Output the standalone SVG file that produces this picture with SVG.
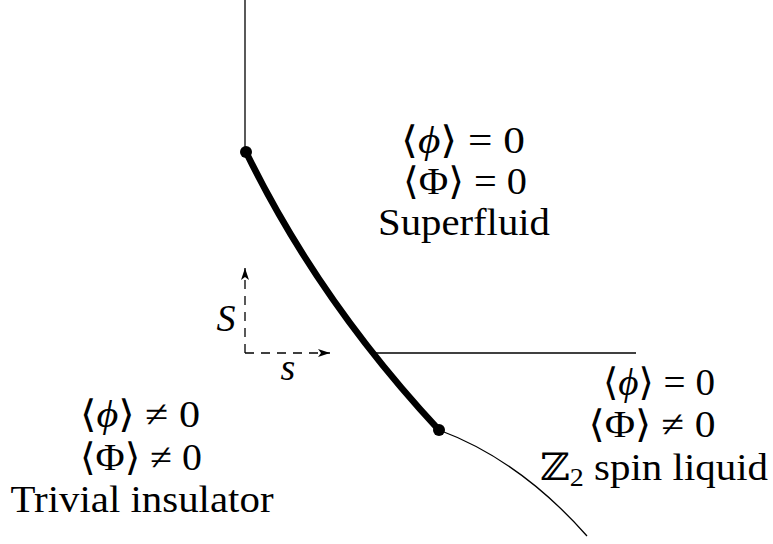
<svg xmlns="http://www.w3.org/2000/svg" width="773" height="544" viewBox="0 0 773 544">
<defs>
<style>
.t{font-family:"Liberation Serif","DejaVu Serif",serif;font-size:38px;fill:#000;text-anchor:middle}
.i{font-style:italic}
.thin{fill:none;stroke:#000;stroke-width:1.3}
.thick{fill:none;stroke:#000;stroke-width:6.5}
.dash{fill:none;stroke:#000;stroke-width:1.3;stroke-dasharray:9,7}
</style>
<marker id="ah" viewBox="0 0 12 10" refX="12" refY="5" markerWidth="12" markerHeight="10" markerUnits="userSpaceOnUse" orient="auto">
<path d="M0,1 L12,5 L0,9 L3,5 Z" fill="#000"/>
</marker>
</defs>
<rect width="773" height="544" fill="#fff"/>
<g id="connectors">
<line class="thin" x1="245" y1="0" x2="245" y2="152"/>
<path class="thick" d="M246,152 Q318,300 439,430"/>
<path class="thin" d="M439,430 Q520,460 587,536"/>
<line class="thin" x1="370" y1="353" x2="636" y2="353"/>
<line class="dash" x1="245" y1="353" x2="245" y2="268" marker-end="url(#ah)"/>
<line class="dash" x1="245" y1="353" x2="330" y2="353" marker-end="url(#ah)"/>
</g>
<g id="dot-top"><circle cx="246" cy="152" r="6" fill="#000"/></g>
<g id="dot-bottom"><circle cx="439" cy="430" r="6" fill="#000"/></g>
<g id="label-S"><text class="t i" x="226" y="331">S</text></g>
<g id="label-s"><text class="t i" x="288" y="380">s</text></g>
<g id="superfluid">
<text class="t" x="463" y="153" textLength="124" lengthAdjust="spacingAndGlyphs">⟨<tspan class="i">ϕ</tspan>⟩ = 0</text>
<text class="t" x="465" y="194" textLength="124" lengthAdjust="spacingAndGlyphs">⟨Φ⟩ = 0</text>
<text class="t" x="464" y="235" textLength="172" lengthAdjust="spacingAndGlyphs">Superfluid</text>
</g>
<g id="trivial">
<text class="t" x="140" y="427" textLength="120" lengthAdjust="spacingAndGlyphs">⟨<tspan class="i">ϕ</tspan>⟩ ≠ 0</text>
<text class="t" x="141" y="470" textLength="122" lengthAdjust="spacingAndGlyphs">⟨Φ⟩ ≠ 0</text>
<text class="t" x="142" y="512" textLength="263" lengthAdjust="spacingAndGlyphs">Trivial insulator</text>
</g>
<g id="z2">
<text class="t" x="659" y="395" textLength="112" lengthAdjust="spacingAndGlyphs">⟨<tspan class="i">ϕ</tspan>⟩ = 0</text>
<text class="t" x="652" y="437" textLength="127" lengthAdjust="spacingAndGlyphs">⟨Φ⟩ ≠ 0</text>
<text class="t" x="654" y="480" textLength="228" lengthAdjust="spacingAndGlyphs">ℤ<tspan font-size="26" dy="6">2</tspan><tspan dy="-6"> spin liquid</tspan></text>
</g>
</svg>
